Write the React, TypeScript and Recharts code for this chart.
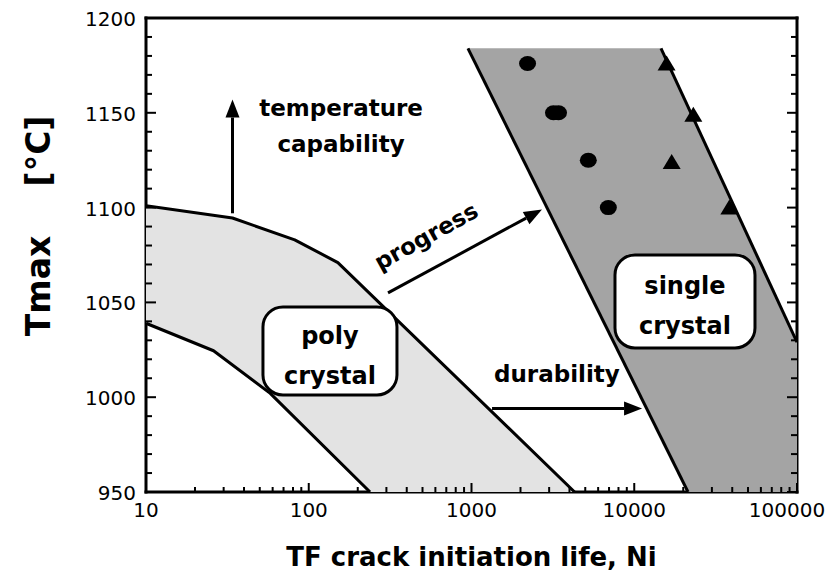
import React from "react";
import { ComposedChart, Scatter, XAxis, YAxis } from "recharts";

const FONT = "DejaVu Sans";

// axis ticks
const lifeTicks = [10, 100, 1000, 10000, 100000];
const lifeMinorTicks = [
  20, 30, 40, 50, 60, 70, 80, 90,
  200, 300, 400, 500, 600, 700, 800, 900,
  2000, 3000, 4000, 5000, 6000, 7000, 8000, 9000,
  20000, 30000, 40000, 50000, 60000, 70000, 80000, 90000,
];
const tempTicks = [950, 1000, 1050, 1100, 1150, 1200];
const tempMinorTicks = [
  960, 970, 980, 990, 1010, 1020, 1030, 1040, 1060, 1070, 1080, 1090,
  1110, 1120, 1130, 1140, 1160, 1170, 1180, 1190,
];

// poly crystal band (n = cycles, t = Tmax in °C)
const polyUpper = [
  { n: 10, t: 1101 },
  { n: 34, t: 1094.5 },
  { n: 82, t: 1083 },
  { n: 151, t: 1071 },
  { n: 4300, t: 950 },
];
const polyLower = [
  { n: 10, t: 1039 },
  { n: 26, t: 1024.5 },
  { n: 58, t: 1002 },
  { n: 238, t: 950 },
];

// single crystal band
const singleLeft = [
  { n: 951, t: 1184 },
  { n: 21400, t: 950 },
];
const singleRight = [
  { n: 14600, t: 1184 },
  { n: 100000, t: 1029 },
];

// measured points
const circles = [
  { n: 2210, t: 1176 },
  { n: 3190, t: 1150 },
  { n: 3425, t: 1150 },
  { n: 5220, t: 1125 },
  { n: 6930, t: 1100 },
];
const triangles = [
  { n: 15800, t: 1176 },
  { n: 23070, t: 1149 },
  { n: 16980, t: 1124 },
  { n: 38400, t: 1100 },
];

// annotations
const tempArrow = [
  { n: 34, t: 1097 },
  { n: 34, t: 1157 },
];
const progressArrow = [
  { n: 307, t: 1055 },
  { n: 2710, t: 1099 },
];
const durabilityArrow = [
  { n: 1337, t: 994 },
  { n: 11170, t: 994 },
];
const tempLabel = [{ n: 158, t: 1139 }];
const progressLabel = [{ n: 541, t: 1083 }];
const durabilityLabel = [{ n: 3350, t: 1008 }];
const polyLabel = [{ n: 135, t: 1024.4 }];
const singleLabel = [{ n: 20500, t: 1050.5 }];

const polyBand = [...polyUpper, ...[...polyLower].reverse()];
const singleBand = [singleLeft[0], singleRight[0], singleRight[1], { n: 100000, t: 950 }, singleLeft[1]];

const toPath = (pts: { x: number; y: number }[], close = false) =>
  pts.map((p, i) => `${i ? "L" : "M"}${p.x},${p.y}`).join(" ") + (close ? " Z" : "");

const noShape = () => <g />;

const fillLine = (color: string) => (props: any) => (
  <path d={toPath(props.points, true)} fill={color} stroke="none" />
);

const strokeLine = (props: any) => (
  <path d={toPath(props.points)} fill="none" stroke="#000" strokeWidth={3} strokeLinejoin="round" />
);

const arrowLine = (props: any) => {
  const [a, b] = props.points;
  const ang = Math.atan2(b.y - a.y, b.x - a.x);
  const len = 18;
  const w = 7;
  const bx = b.x - len * Math.cos(ang);
  const by = b.y - len * Math.sin(ang);
  const px = -Math.sin(ang) * w;
  const py = Math.cos(ang) * w;
  return (
    <g>
      <line x1={a.x} y1={a.y} x2={bx} y2={by} stroke="#000" strokeWidth={3} />
      <polygon points={`${b.x},${b.y} ${bx + px},${by + py} ${bx - px},${by - py}`} fill="#000" />
    </g>
  );
};

const circleShape = (p: any) => <ellipse cx={p.cx} cy={p.cy} rx={8.5} ry={7.5} fill="#000" />;
const triangleShape = (p: any) => (
  <polygon points={`${p.cx},${p.cy - 8} ${p.cx - 9},${p.cy + 7} ${p.cx + 9},${p.cy + 7}`} fill="#000" />
);

const textStyle = { fontFamily: FONT, fontWeight: "bold" as const, fill: "#000" };

const twoLines = (a: string, b: string) => (p: any) => (
  <g>
    <text x={p.cx} y={p.cy - 18} textAnchor="middle" fontSize={23} {...textStyle}>{a}</text>
    <text x={p.cx} y={p.cy + 18} textAnchor="middle" fontSize={23} {...textStyle}>{b}</text>
  </g>
);

const boxLabel = (a: string, b: string, w: number, h: number) => (p: any) => (
  <g>
    <rect x={p.cx - w / 2} y={p.cy - h / 2} width={w} height={h} rx={20} ry={20} fill="#fff" stroke="#000" strokeWidth={3} />
    <text x={p.cx} y={p.cy - 7} textAnchor="middle" fontSize={24} {...textStyle}>{a}</text>
    <text x={p.cx} y={p.cy + 33} textAnchor="middle" fontSize={24} {...textStyle}>{b}</text>
  </g>
);

const progressShape = (p: any) => (
  <g transform={`rotate(-29 ${p.cx} ${p.cy})`}>
    <text x={p.cx} y={p.cy + 4} textAnchor="middle" fontSize={23} {...textStyle}>progress</text>
  </g>
);

const durabilityShape = (p: any) => (
  <text x={p.cx} y={p.cy} textAnchor="middle" fontSize={23} {...textStyle}>durability</text>
);

const tickText = { fontFamily: FONT, fontSize: 20, fill: "#000" };

const BottomTick = (props: any) => {
  const { x, y, payload } = props;
  const major = lifeTicks.includes(payload.value);
  const last = payload.value === lifeTicks[lifeTicks.length - 1];
  return (
    <g>
      <line x1={x} y1={y} x2={x} y2={y - (major ? 9 : 5)} stroke="#000" strokeWidth={2} />
      {major && (
        <text x={last ? x - 10 : x} y={y + 25} textAnchor="middle" {...tickText}>{payload.value}</text>
      )}
    </g>
  );
};

const TopTick = (props: any) => {
  const { x, y, payload } = props;
  const major = lifeTicks.includes(payload.value);
  return <line x1={x} y1={y} x2={x} y2={y + (major ? 9 : 5)} stroke="#000" strokeWidth={2} />;
};

const LeftTick = (props: any) => {
  const { x, y, payload } = props;
  const major = tempTicks.includes(payload.value);
  return (
    <g>
      <line x1={x} y1={y} x2={x + (major ? 10 : 6)} y2={y} stroke="#000" strokeWidth={2} />
      {major && (
        <text x={x - 10} y={y + 8} textAnchor="end" {...tickText}>{payload.value}</text>
      )}
    </g>
  );
};

const RightTick = (props: any) => {
  const { x, y, payload } = props;
  const major = tempTicks.includes(payload.value);
  return <line x1={x} y1={y} x2={x - (major ? 10 : 6)} y2={y} stroke="#000" strokeWidth={2} />;
};

const YTitle = (props: any) => {
  const vb = props.viewBox;
  const x = vb.x + vb.width - 96;
  const y1 = vb.y + 268;
  const y2 = vb.y + 133;
  return (
    <g>
      <text x={x} y={y1} transform={`rotate(-90 ${x} ${y1})`} textAnchor="middle" fontSize={33} {...textStyle}>Tmax</text>
      <text x={x} y={y2} transform={`rotate(-90 ${x} ${y2})`} textAnchor="middle" fontSize={33} {...textStyle}>[°C]</text>
    </g>
  );
};

const XTitle = (props: any) => {
  const vb = props.viewBox;
  return (
    <text x={vb.x + vb.width / 2} y={vb.y + 74} textAnchor="middle" fontSize={26} {...textStyle}>
      TF crack initiation life, Ni
    </text>
  );
};

const axisLine = { stroke: "#000", strokeWidth: 3, strokeLinecap: "square" as const };

export default function App() {
  const allLife = [...lifeTicks, ...lifeMinorTicks].sort((a, b) => a - b);
  const allTemp = [...tempTicks, ...tempMinorTicks].sort((a, b) => a - b);
  return (
    <div style={{ position: "absolute", left: 0, top: 0, background: "#fff" }}>
      <ComposedChart width={832} height={576} margin={{ top: 17, right: 34, bottom: 83, left: 145 }}>
        <Scatter data={polyBand} shape={noShape} line={fillLine("#e3e3e3")} isAnimationActive={false} />
        <Scatter data={singleBand} shape={noShape} line={fillLine("#a4a4a4")} isAnimationActive={false} />
        <Scatter data={polyUpper} shape={noShape} line={strokeLine} isAnimationActive={false} />
        <Scatter data={polyLower} shape={noShape} line={strokeLine} isAnimationActive={false} />
        <Scatter data={singleLeft} shape={noShape} line={strokeLine} isAnimationActive={false} />
        <Scatter data={singleRight} shape={noShape} line={strokeLine} isAnimationActive={false} />
        <Scatter data={polyLabel} shape={boxLabel("poly", "crystal", 134, 88)} isAnimationActive={false} />
        <Scatter data={singleLabel} shape={boxLabel("single", "crystal", 140, 93)} isAnimationActive={false} />
        <Scatter data={circles} shape={circleShape} isAnimationActive={false} />
        <Scatter data={triangles} shape={triangleShape} isAnimationActive={false} />
        <Scatter data={tempArrow} shape={noShape} line={arrowLine} isAnimationActive={false} />
        <Scatter data={progressArrow} shape={noShape} line={arrowLine} isAnimationActive={false} />
        <Scatter data={durabilityArrow} shape={noShape} line={arrowLine} isAnimationActive={false} />
        <Scatter data={tempLabel} shape={twoLines("temperature", "capability")} isAnimationActive={false} />
        <Scatter data={progressLabel} shape={progressShape} isAnimationActive={false} />
        <Scatter data={durabilityLabel} shape={durabilityShape} isAnimationActive={false} />
        <XAxis
          dataKey="n"
          type="number"
          scale="log"
          domain={[10, 100000]}
          allowDataOverflow
          ticks={allLife}
          interval={0}
          height={1}
          tickSize={0}
          tickMargin={0}
          tickLine={false}
          axisLine={axisLine}
          tick={<BottomTick />}
          label={<XTitle />}
        />
        <XAxis
          xAxisId="top"
          orientation="top"
          type="number"
          scale="log"
          domain={[10, 100000]}
          allowDataOverflow
          ticks={allLife}
          interval={0}
          height={1}
          tickSize={0}
          tickMargin={0}
          tickLine={false}
          axisLine={axisLine}
          tick={<TopTick />}
        />
        <YAxis
          dataKey="t"
          type="number"
          domain={[950, 1200]}
          allowDataOverflow
          ticks={allTemp}
          interval={0}
          width={1}
          tickSize={0}
          tickMargin={0}
          tickLine={false}
          axisLine={axisLine}
          tick={<LeftTick />}
          label={<YTitle />}
        />
        <YAxis
          yAxisId="right"
          orientation="right"
          type="number"
          domain={[950, 1200]}
          allowDataOverflow
          ticks={allTemp}
          interval={0}
          width={1}
          tickSize={0}
          tickMargin={0}
          tickLine={false}
          axisLine={axisLine}
          tick={<RightTick />}
        />
      </ComposedChart>
    </div>
  );
}
